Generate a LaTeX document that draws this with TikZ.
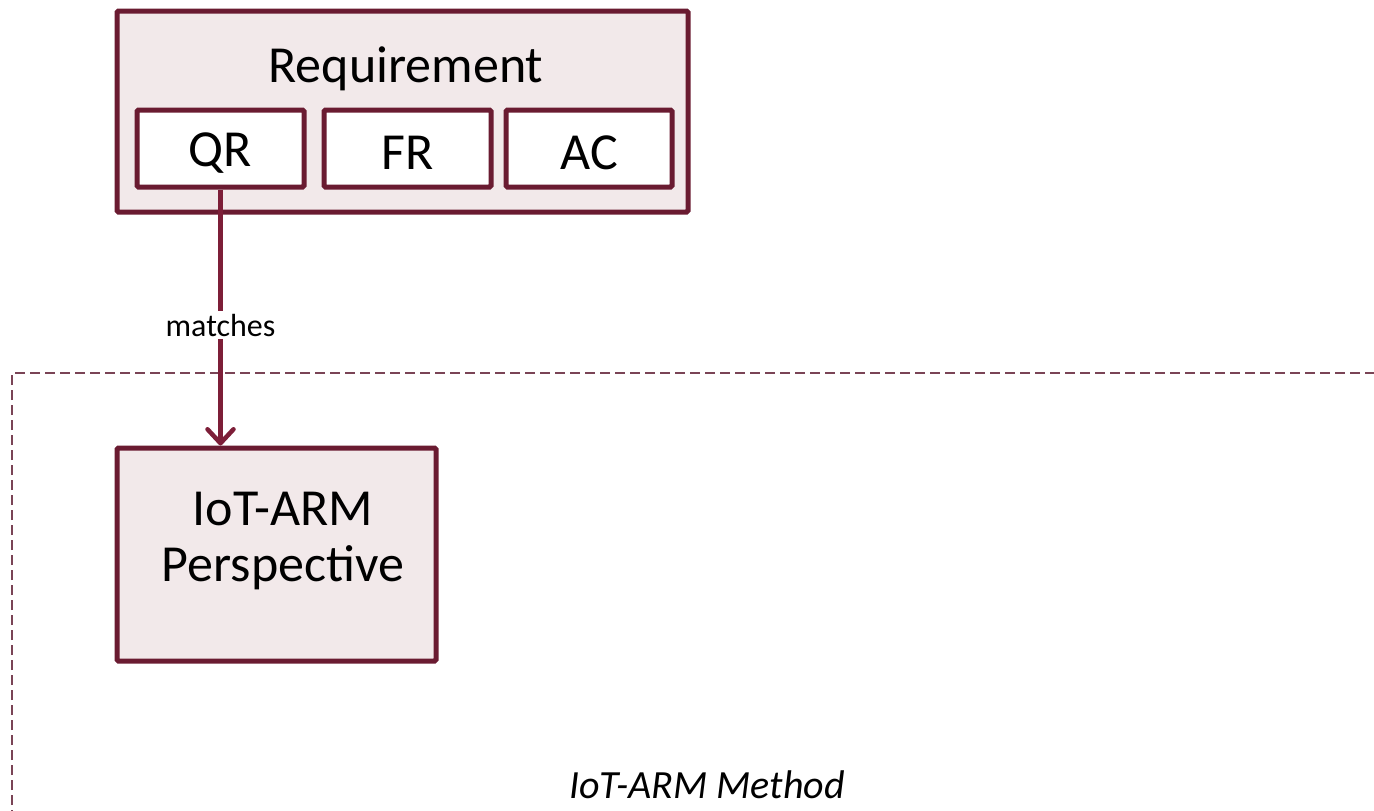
\documentclass[tikz,border=0pt]{standalone}
\usepackage{fontspec}
\setmainfont{Carlito}
\usetikzlibrary{arrows.meta}
\definecolor{frame}{HTML}{6A1B31}
\definecolor{boxfill}{HTML}{F2E9EA}
\definecolor{conn}{HTML}{7D1E38}
\definecolor{dash}{HTML}{7A4456}
\tikzset{
  bigbox/.style={draw=frame, line width=5pt, fill=boxfill, rounded corners=1.5pt, inner sep=0pt},
  smallbox/.style={draw=frame, line width=5pt, fill=white, rounded corners=1.5pt, inner sep=0pt},
  bigtext/.style={font=\fontsize{52}{56}\selectfont, align=center, inner sep=0pt},
  connector/.style={draw=conn, line width=4.5pt, -{Straight Barb[length=14pt,width=26pt,round]}},
  lbl/.style={fill=white, inner sep=3pt, font=\fontsize{32}{36}\selectfont},
  dashframe/.style={draw=dash, line width=1.5pt, dash pattern=on 10pt off 5pt}
}
\begin{document}
\begin{tikzpicture}[x=1pt,y=-1pt]
\useasboundingbox (0,0) rectangle (1374,811);
% dashed frame (open to the right and bottom)
\coordinate (dTL) at (12,373);
\coordinate (dTR) at (1380,373);
\coordinate (dBL) at (12,820);
\draw[dashframe] (dBL) -- (dTL) -- (dTR);
% Requirement box
\node[bigbox, minimum width=571pt, minimum height=201pt] (req) at (402.5,111.5) {};
\node[bigtext] (reqlbl) at (406,69) {Requirement};
\node[smallbox, minimum width=167pt, minimum height=77pt] (QR) at (220.5,148.5) {};
\node[smallbox, minimum width=167pt, minimum height=77pt] (FR) at (407.5,148.5) {};
\node[smallbox, minimum width=166pt, minimum height=77pt] (AC) at (589,148.5) {};
\node[bigtext] (QRl) at (220.5,153) {QR};
\node[bigtext] (FRl) at (407.5,153) {FR};
\node[bigtext] (ACl) at (589,153) {AC};
% IoT-ARM Perspective
\node[bigbox, minimum width=319pt, minimum height=213pt] (persp) at (276.5,554.5) {};
\node[bigtext] (persplbl) at (283,541) {IoT-ARM\\Perspective};
% connector
\draw[connector] (QR.south) -- node[lbl, pos=0.53] {matches} (QR.south |- persp.north);
% method label
\node[font=\itshape\fontsize{40}{48}\selectfont] (method) at (707,785) {IoT-ARM Method};
\end{tikzpicture}
\end{document}
